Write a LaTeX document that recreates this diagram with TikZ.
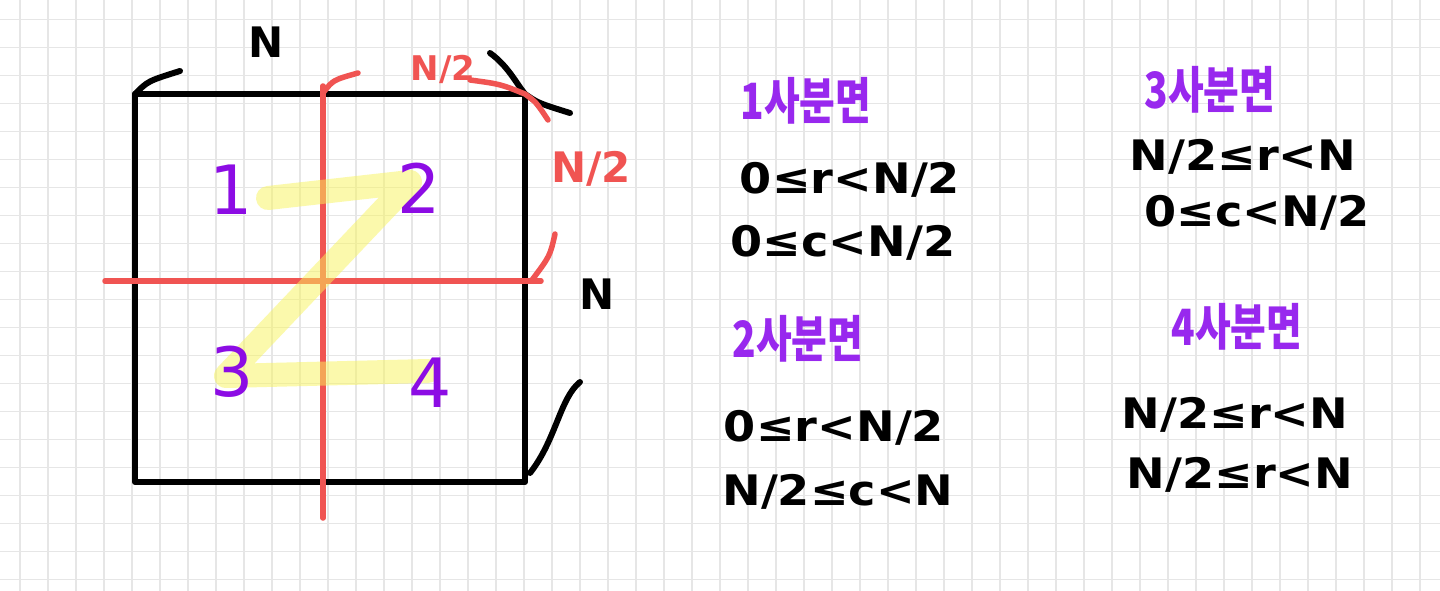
\documentclass[tikz,border=0pt]{standalone}
\usepackage{fontspec}
\newfontfamily\krfont{Noto Sans CJK KR}
\newfontfamily\eqfont{DejaVu Sans}
\definecolor{gridc}{RGB}{230,230,230}
\definecolor{penred}{RGB}{240,84,82}
\definecolor{penpurple}{RGB}{140,12,228}
\definecolor{headpurple}{RGB}{152,40,238}
\definecolor{hilite}{RGB}{248,244,90}
\newcommand{\hdtext}[1]{\scalebox{0.97}[1.25]{#1}}
\newcommand{\eqtext}[1]{\scalebox{1.1}[1]{#1}}
\begin{document}
\begin{tikzpicture}[x=1pt,y=-1pt,
  pen/.style={line width=6pt,line cap=round,line join=round},
  redpen/.style={line width=5.5pt,line cap=round,line join=round,penred},
  eq/.style={font=\eqfont\bfseries\fontsize{42}{42}\selectfont,inner sep=0pt,text=black},
  head/.style={font=\krfont\bfseries\fontsize{40}{40}\selectfont,inner sep=0pt,text=headpurple},
  num/.style={font=\eqfont\fontsize{68}{68}\selectfont,inner sep=0pt,text=penpurple},
  lab/.style={font=\eqfont\bfseries\fontsize{42}{42}\selectfont,inner sep=0pt}]
\fill[white] (0,0) rectangle (1440,591);
\useasboundingbox (0,0) rectangle (1440,591);
\foreach \i in {0,...,50} \draw[gridc,line width=1.1pt] (20+28*\i,0) -- (20+28*\i,591);
\foreach \j in {0,...,20} \draw[gridc,line width=1.1pt] (0,19.5+28*\j) -- (1440,19.5+28*\j);
% box
\coordinate (tl) at (135,94);
\coordinate (tr) at (525,94);
\coordinate (br) at (525,482);
\coordinate (bl) at (135,482);
\draw[pen] (tl) -- (tr) -- (br) -- (bl) -- cycle;
% red split lines
\coordinate (vt) at (323,86);
\coordinate (vb) at (323,518);
\coordinate (hl) at (105,281);
\coordinate (hr) at (541,281);
\draw[redpen] (vt) -- (vb);
\draw[redpen] (hl) -- (hr);
% hooks / brackets
\draw[pen] (tl) .. controls (148,81) .. (180,71);
\draw[redpen] (323,93) .. controls (333,80) .. (358,73);
\draw[pen] (490,53) .. controls (508,66) and (516,83) .. (tr) .. controls (538,103) .. (570,113);
\draw[redpen] (470,80) .. controls (500,84) .. (tr) .. controls (536,102) .. (548,120);
\draw[redpen] (555,234) .. controls (550,256) .. (532,280);
\draw[pen] (580,382) .. controls (560,398) and (556,440) .. (530,473);
% highlighter Z
\draw[hilite,opacity=0.5,line width=24pt,line cap=round,line join=round]
  (268,198) -- (410,182) -- (226,376) -- (428,371);
% quadrant numbers
\node[num] (q1) at (231,190) {1};
\node[num] (q2) at (419,188) {2};
\node[num] (q3) at (232,372) {3};
\node[num] (q4) at (430,383) {4};
% size labels
\node[lab] (ntop) at (266,42) {N};
\node[lab,text=penred,font=\eqfont\bfseries\fontsize{34}{34}\selectfont] (nhalftop) at (443,69) {N/2};
\node[lab,text=penred,font=\eqfont\bfseries\fontsize{42}{42}\selectfont] (nhalfright) at (591,169) {N/2};
\node[lab] (nright) at (597,294) {N};
% quadrant conditions
\node[head] (h1) at (806,101) {\hdtext{1사분면}};
\node[eq] (e1a) at (850,180) {\eqtext{0≤r<N/2}};
\node[eq] (e1b) at (843,243) {\eqtext{0≤c<N/2}};
\node[head] (h2) at (798,339) {\hdtext{2사분면}};
\node[eq] (e2a) at (834,428) {\eqtext{0≤r<N/2}};
\node[eq] (e2b) at (838,492) {\eqtext{N/2≤c<N}};
\node[head] (h3) at (1210,90) {\hdtext{3사분면}};
\node[eq] (e3a) at (1243,157) {\eqtext{N/2≤r<N}};
\node[eq] (e3b) at (1257,213) {\eqtext{0≤c<N/2}};
\node[head] (h4) at (1237,327) {\hdtext{4사분면}};
\node[eq] (e4a) at (1235,415) {\eqtext{N/2≤r<N}};
\node[eq] (e4b) at (1240,475) {\eqtext{N/2≤r<N}};
\end{tikzpicture}
\end{document}
